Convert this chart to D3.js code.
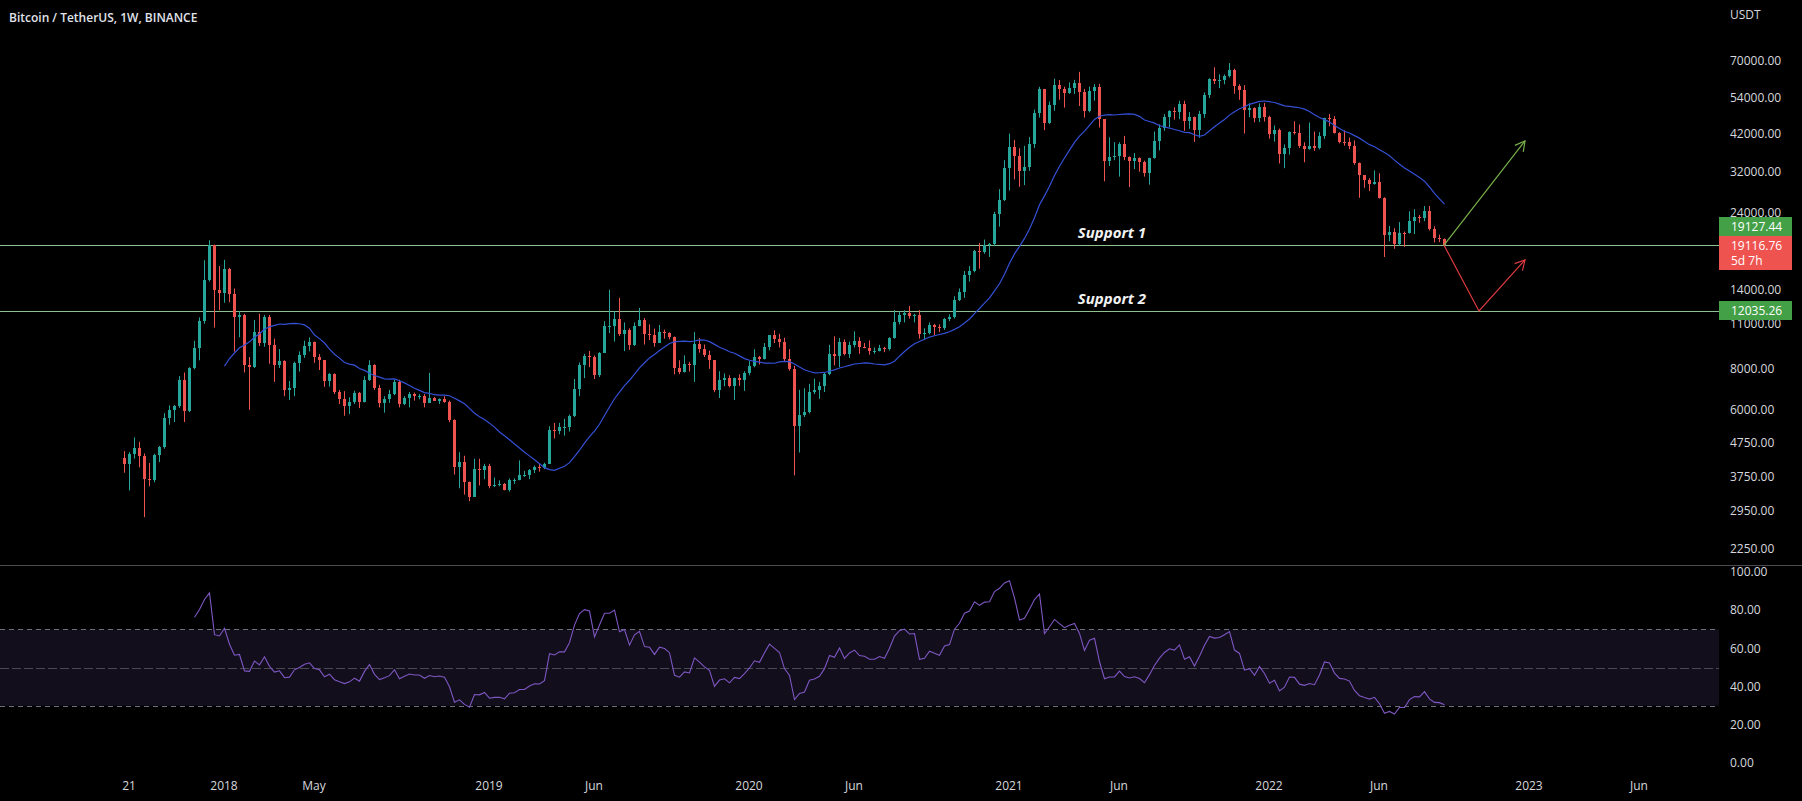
<!DOCTYPE html>
<html>
<head>
<meta charset="utf-8">
<script src="https://cdn.jsdelivr.net/npm/d3@7"></script>
<style>
  html, body { margin: 0; padding: 0; background: #000; overflow: hidden; }
  svg { display: block; font-family: "Open Sans", sans-serif; }
</style>
</head>
<body>
<div id="chart"></div>
<script>
// weekly candles, first week starts Mon 14 Aug 2017 (BINANCE BTCUSDT)
const opens = [
  4261,4086,4380,4580,4330,3680,3660,4370,4610,5680,
  5990,6150,7380,5950,8040,9300,11200,15000,19100,13900,
  13700,16200,13600,11500,11700,8200,8100,10400,9600,11500,
  9500,8200,8450,6900,7000,8350,8800,9400,9650,8700,
  8500,7350,7700,6800,6450,6150,6350,6750,6350,7400,
  8200,7000,6300,6480,6700,7300,6250,6500,6700,6600,
  6600,6300,6500,6400,6450,6350,5600,4000,4140,3600,
  3250,3950,3920,4050,3500,3540,3550,3410,3650,3670,
  3800,3800,3920,4000,3990,4100,5200,5150,5300,5300,
  5750,6950,8200,8750,8700,7650,8950,10800,10800,11400,
  10200,10500,9500,10800,11300,10200,10150,9600,10400,10300,
  10000,8050,7850,8300,8200,9550,9200,8800,8500,6900,
  7400,7500,7100,7500,7400,7750,8150,8700,8600,9350,
  10150,9900,9650,8550,8000,5350,5800,5900,6800,6900,
  7100,7700,8900,8750,9700,8900,9450,9750,9350,9300,
  9100,9100,9300,9200,9950,11100,11700,11900,11650,11700,
  10250,10330,10900,10780,10670,11380,11500,13030,13800,15480,
  15950,18400,18180,19150,19250,23850,26300,33000,38150,35800,
  32250,33100,38900,48600,57400,45100,51200,59000,57350,55800,
  58000,59800,56200,49100,56600,58200,46400,34700,35700,35800,
  39100,35600,34700,35300,34250,31800,35400,39850,43800,47100,
  49300,48800,51800,46000,47300,43200,48200,54950,61500,60850,
  61300,63200,65500,58600,57200,49400,50100,46700,50800,47300,
  41800,43100,36300,37900,42400,42200,38400,37700,38400,37800,
  41300,46800,46400,42150,39700,39450,38500,34050,31300,30300,
  29450,29900,26600,20550,21000,19300,20850,20800,22600,23300,
  23200,24300,21500,20050,19950
];
const highs = [
  4485,4453,4939,4788,4410,4125,4400,4650,5860,6180,
  6200,7600,7800,8100,9750,11500,17200,19800,19200,16500,
  17250,16300,14100,12000,11800,8700,11300,11800,11700,11700,
  9900,9200,8500,7350,8420,9050,9760,9990,9700,8880,
  8510,7780,7750,6900,6840,6550,6860,6800,7600,8500,
  8270,7150,6600,6900,7400,7410,6600,6800,6770,6700,
  6700,7780,6560,6500,6600,6400,5610,4450,4340,3620,
  4250,4250,4100,4100,3720,3650,3580,3700,3700,4200,
  3900,3950,4050,4090,4130,5340,5470,5470,5630,5800,
  7450,8370,8900,9080,8800,9000,11200,13970,12000,13200,
  11100,10650,11100,12300,11450,10950,10630,10900,10550,10350,
  10050,8500,8800,8410,10370,9940,9500,9100,8500,7870,
  7750,7650,7520,7700,7870,8450,9190,8770,9600,10150,
  10500,10250,9970,9200,8180,6900,6980,7200,7470,7300,
  7800,9470,10070,9950,9850,9700,10430,10000,9600,9780,
  9300,9480,9350,10000,12100,12000,12090,12470,11800,12100,
  10650,11100,10990,10950,11450,11750,13350,14100,15950,16500,
  18500,19420,19900,19420,24200,28400,34800,41950,40100,37850,
  38500,40950,49700,58350,57500,52600,61800,61200,58400,60200,
  61300,64850,57500,58450,59500,59600,46500,40900,39500,39500,
  41300,35700,36600,35500,34700,35400,42600,44800,48150,49500,
  50500,52900,52900,48850,47350,49250,56100,62000,67000,63700,
  63700,69000,66300,59400,59050,51950,50500,51900,52100,47600,
  44450,43500,38900,42650,45800,44750,39500,45400,42600,42400,
  46950,48200,47450,42400,42950,40800,40000,34250,31350,30650,
  32400,31750,26800,21900,21550,22500,21050,24280,24650,23650,
  25200,25200,21850,20600,20050
];
const lows = [
  3850,3400,4250,4000,2817,3500,3600,4150,4560,5400,
  5500,6080,5500,5900,7980,8500,11000,14800,10700,12100,
  12750,12800,9035,10000,7800,6000,8050,9400,9350,8300,
  7300,8050,6600,6430,6600,7850,8650,9050,8350,7940,
  7050,7060,6700,6250,5750,5820,6250,6070,6320,7350,
  6900,6100,5880,6300,6650,6100,6200,6100,6400,6460,
  6100,6300,6400,6250,6300,5500,3800,3450,3300,3150,
  3250,3520,3680,3450,3480,3500,3400,3370,3560,3650,
  3740,3680,3840,3880,3950,4100,4900,5050,5000,5150,
  5700,6600,7500,8100,7450,7550,8950,10300,9700,10100,
  9070,9150,9400,10800,9500,9800,9350,9600,9900,9850,
  7700,7710,7800,7850,7300,8970,8700,8000,6790,6520,
  7080,7030,6430,7100,6850,7650,8100,8250,8550,9120,
  9600,9300,8400,7900,3780,4440,5700,5850,6700,6480,
  6800,7650,8200,8100,8800,8650,9300,8900,9250,8840,
  8900,9050,9000,9100,9900,10950,11100,11400,11100,9900,
  9870,10200,10140,10370,10530,11200,11400,12900,13200,14800,
  15800,16200,18000,17600,19000,21800,26100,28100,30400,28850,
  29200,32300,37950,47000,43000,44950,49300,53300,50400,55500,
  55500,51000,47000,48750,52900,43800,30000,33400,34800,31000,
  34800,28800,32700,32100,31000,29300,35200,37300,42800,43950,
  46300,46500,42800,43400,39600,40750,46900,53900,59500,57800,
  59400,62300,55600,53250,42000,47100,45450,45550,45700,40500,
  39650,34000,32900,36200,41700,37950,34300,37450,37150,37550,
  40450,44200,42000,39200,38550,37600,33700,26700,28650,28000,
  29300,26550,17600,19650,18650,19050,18900,20750,20700,22400,
  22650,21200,19500,19550,19050
];
const closes = [
  4086,4380,4580,4330,3680,3660,4370,4610,5680,5990,
  6150,7380,5950,8040,9300,11200,15000,19100,13900,13700,
  16200,13600,11500,11700,8200,8100,10400,9600,11500,9500,
  8200,8450,6900,7000,8350,8800,9400,9650,8700,8500,
  7350,7700,6800,6450,6150,6350,6750,6350,7400,8200,
  7000,6300,6480,6700,7300,6250,6500,6700,6600,6600,
  6300,6500,6400,6450,6350,5600,4000,4140,3600,3250,
  3950,3920,4050,3500,3540,3550,3410,3650,3670,3800,
  3800,3920,4000,3990,4100,5200,5150,5300,5300,5750,
  6950,8200,8750,8700,7650,8950,10800,10800,11400,10200,
  10500,9500,10800,11300,10200,10150,9600,10400,10300,10000,
  8050,7850,8300,8200,9550,9200,8800,8500,6900,7400,
  7500,7100,7500,7400,7750,8150,8700,8600,9350,10150,
  9900,9650,8550,8000,5350,5800,5900,6800,6900,7100,
  7700,8900,8750,9700,8900,9450,9750,9350,9300,9100,
  9100,9300,9200,9950,11100,11700,11900,11650,11700,10250,
  10330,10900,10780,10670,11380,11500,13030,13800,15480,15950,
  18400,18180,19150,19250,23850,26300,33000,38150,35800,32250,
  33100,38900,48600,57400,45100,51200,59000,57350,55800,58000,
  59800,56200,49100,56600,58200,46400,34700,35700,35800,39100,
  35600,34700,35300,34250,31800,35400,39850,43800,47100,49300,
  48800,51800,46000,47300,43200,48200,54950,61500,60850,61300,
  63200,65500,58600,57200,49400,50100,46700,50800,47300,41800,
  43100,36300,37900,42400,42200,38400,37700,38400,37800,41300,
  46800,46400,42150,39700,39450,38500,34050,31300,30300,29450,
  29900,26600,20550,21000,19300,20850,20800,22600,23300,23200,
  24300,21500,20050,19950,19116.76
];

const priceTicks = [70000, 54000, 42000, 32000, 24000, 14000, 11000, 8000, 6000, 4750, 3750, 2950, 2250];
const rsiTicks = [100, 80, 60, 40, 20, 0];
const rsiBands = [70, 50, 30];
const timeTickWeeks = [1, 20, 38, 73, 94, 125, 146, 177, 199, 229, 251, 281, 303];
const timeTickLabels = ["21", "2018", "May", "2019", "Jun", "2020", "Jun", "2021", "Jun", "2022", "Jun", "2023", "Jun"];

const supportLevels = [19127.44, 12035.26];
const supportNames = ["Support 1", "Support 2"];
const supportLabelWeek = 197.6;
const lastPrice = 19116.76;
const countdown = "5d 7h";

// drawn arrows, points as [week, price]
const bullArrow = [[264, 19127.44], [280.2, 39850]];
const bearArrow = [[264, 19127.44], [271, 12035.26], [280.2, 17240]];

const maLength = 21;
const rsiLength = 14;

// ---- layout
const W = 1802, H = 801;
const plotRight = 1719;
const paneBottom = 565;

const svg = d3.select("#chart").append("svg")
  .attr("width", W).attr("height", H);

svg.append("rect").attr("width", W).attr("height", H).attr("fill", "#000");

const x = d3.scaleLinear().domain([0, 264]).range([124, 1444]);
const y = d3.scaleLog().domain([2250, 70000]).range([549, 61]);
const yr = d3.scaleLinear().domain([0, 100]).range([763, 572]);

svg.append("clipPath").attr("id", "pane")
  .append("rect").attr("x", 0).attr("y", 0).attr("width", plotRight).attr("height", paneBottom);

// ---- indicators from the closes
const ma = closes.map((c, i) => i < maLength - 1 ? null : d3.mean(closes.slice(i - maLength + 1, i + 1)));

const rsi = closes.map(() => null);
let avgGain = 0, avgLoss = 0;
for (let i = 1; i < closes.length; i++) {
  const ch = closes[i] - closes[i - 1];
  const g = Math.max(ch, 0), l = Math.max(-ch, 0);
  if (i <= rsiLength) {
    avgGain += g / rsiLength;
    avgLoss += l / rsiLength;
    if (i < rsiLength) continue;
  } else {
    avgGain = (avgGain * (rsiLength - 1) + g) / rsiLength;
    avgLoss = (avgLoss * (rsiLength - 1) + l) / rsiLength;
  }
  rsi[i] = avgLoss === 0 ? 100 : 100 - 100 / (1 + avgGain / avgLoss);
}

// ---- RSI pane
svg.append("rect")
  .attr("x", 0).attr("width", plotRight)
  .attr("y", yr(rsiBands[0])).attr("height", yr(rsiBands[2]) - yr(rsiBands[0]))
  .attr("fill", "#120e1c");

svg.selectAll(".band")
  .data(rsiBands)
  .enter().append("line")
  .attr("class", "band")
  .attr("x1", 0).attr("x2", plotRight)
  .attr("y1", d => Math.round(yr(d)) + 0.5).attr("y2", d => Math.round(yr(d)) + 0.5)
  .attr("stroke", "#787b86")
  .attr("stroke-opacity", (d, i) => i === 1 ? 0.55 : 0.9)
  .attr("stroke-dasharray", (d, i) => i === 1 ? "9,3" : "5,4");

const rsiLine = d3.line()
  .defined(d => d !== null)
  .x((d, i) => x(i) + 0.5)
  .y(d => yr(d));

svg.append("path")
  .datum(rsi)
  .attr("d", rsiLine)
  .attr("fill", "none")
  .attr("stroke", "#7e57c2")
  .attr("stroke-width", 1.1);

// pane separator
svg.append("line")
  .attr("x1", 0).attr("x2", W)
  .attr("y1", paneBottom + 0.5).attr("y2", paneBottom + 0.5)
  .attr("stroke", "#4a4a4f");

// ---- price pane
const pane = svg.append("g").attr("clip-path", "url(#pane)");

pane.selectAll(".support")
  .data(supportLevels)
  .enter().append("line")
  .attr("class", "support")
  .attr("x1", 0).attr("x2", plotRight)
  .attr("y1", d => Math.round(y(d)) + 0.5).attr("y2", d => Math.round(y(d)) + 0.5)
  .attr("stroke", "#8fc18f")
  .attr("stroke-width", 1);

const candles = pane.selectAll(".candle")
  .data(closes)
  .enter().append("g")
  .attr("class", "candle")
  .attr("fill", (d, i) => d >= opens[i] ? "#26a69a" : "#ef5350")
  .attr("stroke", (d, i) => d >= opens[i] ? "#26a69a" : "#ef5350");

candles.append("line")
  .attr("x1", (d, i) => x(i) + 0.5).attr("x2", (d, i) => x(i) + 0.5)
  .attr("y1", (d, i) => y(highs[i])).attr("y2", (d, i) => y(lows[i]))
  .attr("stroke-width", 1);

candles.append("rect")
  .attr("x", (d, i) => x(i) - 1)
  .attr("width", 3)
  .attr("y", (d, i) => y(Math.max(d, opens[i])))
  .attr("height", (d, i) => Math.max(1, Math.abs(y(d) - y(opens[i]))))
  .attr("stroke", "none")
  .attr("shape-rendering", "crispEdges");

const maLine = d3.line()
  .defined(d => d !== null)
  .x((d, i) => x(i) + 0.5)
  .y(d => y(d));

pane.append("path")
  .datum(ma)
  .attr("d", maLine)
  .attr("fill", "none")
  .attr("stroke", "#3450d6")
  .attr("stroke-width", 1.2);

// arrows
const pathLine = d3.line().x(d => x(d[0])).y(d => y(d[1]));
function drawArrow(pts, color) {
  pane.append("path")
    .attr("d", pathLine(pts))
    .attr("fill", "none")
    .attr("stroke", color)
    .attr("stroke-width", 1.2);
  const a = pts[pts.length - 2], b = pts[pts.length - 1];
  const ax = x(a[0]), ay = y(a[1]), bx = x(b[0]), by = y(b[1]);
  const ang = Math.atan2(by - ay, bx - ax);
  const len = 11, spread = 0.5;
  const head = [
    [bx - len * Math.cos(ang - spread), by - len * Math.sin(ang - spread)],
    [bx, by],
    [bx - len * Math.cos(ang + spread), by - len * Math.sin(ang + spread)]
  ];
  pane.append("path")
    .attr("d", d3.line()(head))
    .attr("fill", "none")
    .attr("stroke", color)
    .attr("stroke-width", 1.2);
}
drawArrow(bullArrow, "#79b04a");
drawArrow(bearArrow, "#dc3b3f");

pane.selectAll(".supportName")
  .data(supportLevels)
  .enter().append("text")
  .attr("class", "supportName")
  .attr("x", x(supportLabelWeek))
  .attr("y", d => y(d) - 7)
  .attr("text-anchor", "middle")
  .attr("fill", "#f2f2f2")
  .style("font-size", "15px")
  .style("font-weight", "700")
  .style("font-style", "italic")
  .text((d, i) => supportNames[i]);

// ---- title
svg.append("text")
  .attr("x", 9).attr("y", 22)
  .attr("fill", "#e0e3eb")
  .style("font-size", "12px")
  .style("font-weight", "600")
  .text("Bitcoin / TetherUS, 1W, BINANCE");

// ---- right axis
const axisText = "#d6d8de";
svg.append("text")
  .attr("x", 1730).attr("y", 15).attr("dy", "0.35em")
  .attr("fill", axisText).style("font-size", "12px")
  .text("USDT");

svg.selectAll(".ptick")
  .data(priceTicks)
  .enter().append("text")
  .attr("class", "ptick")
  .attr("x", 1730).attr("y", d => y(d)).attr("dy", "0.35em")
  .attr("fill", axisText).style("font-size", "12px")
  .text(d => d3.format(".2f")(d));

svg.selectAll(".rtick")
  .data(rsiTicks)
  .enter().append("text")
  .attr("class", "rtick")
  .attr("x", 1730).attr("y", d => yr(d)).attr("dy", "0.35em")
  .attr("fill", axisText).style("font-size", "12px")
  .text(d => d3.format(".2f")(d));

// ---- time axis
svg.selectAll(".ttick")
  .data(timeTickWeeks)
  .enter().append("text")
  .attr("class", "ttick")
  .attr("x", d => x(d)).attr("y", 786).attr("dy", "0.35em")
  .attr("text-anchor", "middle")
  .attr("fill", axisText).style("font-size", "12px")
  .text((d, i) => timeTickLabels[i]);

// ---- price labels on the scale
const boxX = plotRight, boxW = 73, boxH = 19;
const fmt = d3.format(".2f");

function tag(top, h, fill, lines) {
  svg.append("rect")
    .attr("x", boxX).attr("y", top).attr("width", boxW).attr("height", h)
    .attr("fill", fill);
  lines.forEach((t, k) => {
    svg.append("text")
      .attr("x", 1731).attr("y", top + 9.5 + k * 15).attr("dy", "0.35em")
      .attr("fill", "#ffffff").style("font-size", "12px")
      .text(t);
  });
}
// support 1 tag is pushed up above the live price tag
const s1 = Math.round(y(supportLevels[0]));
tag(s1 - 28, boxH, "#43a047", [fmt(supportLevels[0])]);
tag(s1 - 9, 34, "#ef5350", [fmt(lastPrice), countdown]);
tag(Math.round(y(supportLevels[1])) - 10, boxH, "#43a047", [fmt(supportLevels[1])]);
</script>
</body>
</html>
